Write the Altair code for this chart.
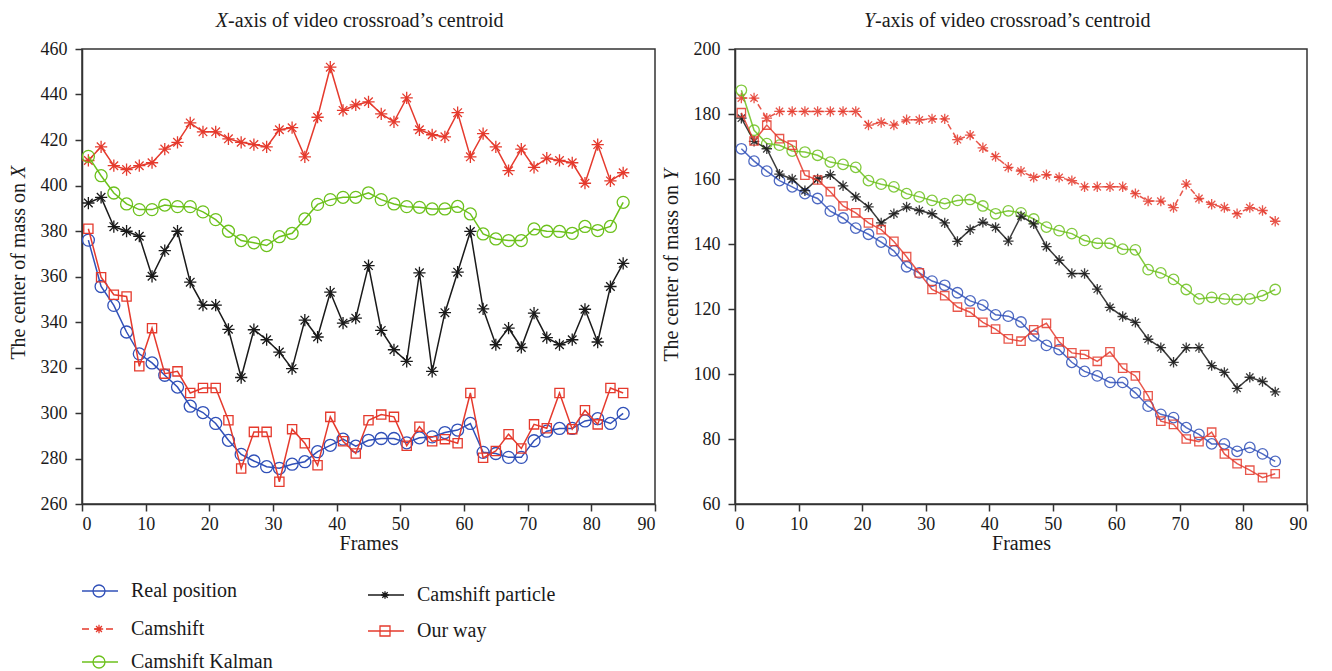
import altair as alt
import pandas as pd

# ---------------- data ----------------
frames = [1, 3, 5, 7, 9, 11, 13, 15, 17, 19, 21, 23, 25, 27, 29, 31, 33, 35, 37, 39, 41, 43,
          45, 47, 49, 51, 53, 55, 57, 59, 61, 63, 65, 67, 69, 71, 73, 75, 77, 79, 81, 83, 85]

series = ["Real position", "Camshift", "Camshift Kalman", "Camshift particle", "Our way"]

# X-axis panel
x_real = [376, 355.6, 347.3, 335.6, 326, 322, 316.6, 311.4, 303, 300.2, 295.4, 288, 281.8, 278.9,
          276.4, 275.7, 277.5, 278.6, 283, 285.8, 288.5, 285.4, 288, 288.8, 288.8, 286.9, 289.1,
          289.5, 291.4, 292.5, 295.4, 282.7, 282.2, 280.5, 280.5, 287.8, 292, 293.2, 293.2, 296.5,
          297.5, 295.4, 299.8]
x_camshift = [411, 417, 408.7, 407, 408.7, 410, 416, 419, 427.5, 423.6, 423.6, 420.5, 419, 418, 417,
              424.5, 425.4, 412.6, 430, 452, 433, 435.4, 436.8, 431.5, 428, 438.5, 424.5, 422.3,
              421.4, 432, 412.6, 422.8, 417, 406.5, 416, 408, 412, 411, 410, 401, 418, 402, 405.6]
x_kalman = [412.8, 404.3, 396.7, 391.9, 389.4, 389.4, 391.4, 390.7, 390.7, 388.4, 385, 379.9, 375.8,
            374.8, 373.6, 377.5, 379, 385.3, 391.7, 393.8, 394.8, 394.8, 396.8, 393.8, 391.9, 390.7,
            390.4, 389.7, 389.7, 390.8, 387.5, 378.7, 376.5, 375.8, 375.8, 380.9, 379.9, 379.8, 379,
            382, 380.2, 382, 392.6]
x_particle = [392.3, 394.8, 381.9, 379.9, 377.7, 360.1, 371.4, 379.9, 357.5, 347.4, 347.4, 336.8,
              315.6, 336.6, 332.2, 326.8, 319.5, 340.8, 333.4, 353.1, 339.5, 341.7, 364.8, 336.3,
              327.8, 322.7, 361.6, 318.3, 344.1, 361.9, 379.8, 345.8, 330, 337.3, 328.8, 343.9,
              333.1, 330, 332.2, 345.6, 331.2, 355.6, 365.8]
x_ourway = [381, 359.7, 352, 351.2, 320.5, 337.3, 317.3, 318.3, 308.8, 311, 311, 296.8, 275.6, 291.7,
            291.7, 269.8, 292.9, 286.7, 277, 298.3, 287.6, 282.2, 296.8, 299.3, 298.3, 285.6, 294,
            287.6, 288.5, 286.7, 308.8, 280.3, 283.3, 290.7, 284.4, 295, 293.3, 308.8, 292.9, 301.2,
            295, 311, 308.8]

# Y-axis panel
y_real = [169.3, 165.5, 162.4, 159.5, 157.6, 155.5, 154, 150.1, 148, 144.9, 143, 140.6, 137.9, 133,
          131.1, 128.6, 127.3, 125, 122.5, 121.2, 118.2, 117.8, 116, 111.7, 108.8, 107.5, 103.6,
          100.8, 99.4, 97.4, 97.4, 94.2, 90.1, 87.6, 86.6, 83.5, 81.4, 78.5, 78.5, 76.2, 77.4, 75.4,
          73.1]
y_camshift = [184.9, 184.9, 178.7, 180.8, 180.8, 180.8, 180.8, 180.8, 180.8, 180.8, 176.6, 177.4,
              176.6, 178.2, 178.2, 178.5, 178.5, 172.1, 173.5, 169.6, 166.9, 163.6, 162.4, 160.5,
              161.3, 160.5, 159.5, 157.6, 157.6, 157.6, 157.6, 155.5, 153.2, 153.2, 151.2, 158.4,
              154, 152.2, 151.2, 149.3, 151.2, 150.3, 147]
y_kalman = [187.3, 175, 170.9, 170.4, 168.6, 168.3, 167.3, 165.2, 164.5, 163.6, 159.5, 158.4, 157.6,
            155.5, 154.5, 153.4, 152.4, 153.4, 153.7, 151.7, 149.3, 150.2, 149.6, 147.7, 145.2,
            144.1, 143.2, 141.1, 140.2, 140.2, 138.4, 138.2, 132.1, 131.1, 129.1, 126, 123.1, 123.6,
            123.1, 122.9, 123.1, 124.1, 126]
y_particle = [178.7, 171.6, 169.3, 161.5, 160, 156.4, 160, 161.3, 157.9, 154.5, 151.4, 146.5, 149.3,
              151.4, 150.3, 149.3, 146.5, 140.8, 144.4, 146.7, 145.1, 140.9, 148.6, 146.2, 139.2,
              135, 130.9, 130.9, 126.1, 120.5, 117.7, 115.9, 110.7, 108.1, 103.6, 108.1, 108.1,
              102.6, 100.5, 95.6, 99, 97.7, 94.5]
y_ourway = [180.4, 171.7, 176.6, 172.4, 170.4, 161.2, 159.7, 156.1, 151.7, 149.6, 146.5, 144.4,
            140.8, 136.1, 131.1, 126, 124.1, 120.6, 119, 115.9, 113.8, 110.8, 110.1, 113.6, 115.6,
            109.9, 106.5, 106, 103.9, 106.8, 101.8, 99.4, 93.3, 85.5, 84.5, 80, 79.2, 82.1, 75.4,
            72.4, 70.4, 68.1, 69.3]

x_ticks = [0, 10, 20, 30, 40, 50, 60, 70, 80, 90]
left_ticks = [260, 280, 300, 320, 340, 360, 380, 400, 420, 440, 460]
right_ticks = [60, 80, 100, 120, 140, 160, 180, 200]

# ---------------- styles ----------------
FONT = "Liberation Serif"
ASTER = "M0,-1L0,1M-1,0L1,0M-0.7,-0.7L0.7,0.7M-0.7,0.7L0.7,-0.7"
colors = {
    "Real position": "#3050b8",
    "Camshift": "#e53a2d",
    "Camshift Kalman": "#6cc11c",
    "Camshift particle": "#1a1a1a",
    "Our way": "#e53a2d",
}
shapes = {
    "Real position": "circle",
    "Camshift": ASTER,
    "Camshift Kalman": "circle",
    "Camshift particle": ASTER,
    "Our way": "square",
}

W_L, W_R, H = 573, 572, 455


def text_layer(txt, x, y, size=20, italic=False, align="left", angle=None):
    kw = dict(font=FONT, fontSize=size, align=align, baseline="middle", color="#1a1a1a")
    if italic:
        kw["fontStyle"] = "italic"
    if angle is not None:
        kw["angle"] = angle
    return alt.Chart(pd.DataFrame({"t": [txt]})).mark_text(**kw).encode(
        x=alt.value(x), y=alt.value(y), text="t:N")


AX = dict(labelFont=FONT, labelFontSize=18, labelColor="#1a1a1a",
          titleFont=FONT, titleFontSize=20, titleFontWeight="normal", titleColor="#1a1a1a",
          domainColor="#333333", domainWidth=1.5, tickColor="#333333", tickWidth=1.5,
          grid=False, tickSize=7, format="d")


def panel(values, ydomain, yticks, letter, sizes, dashed, opacity, title_x, ytitle_y):
    xenc = alt.X("frame:Q", scale=alt.Scale(domain=[0, 90], nice=False),
                 axis=alt.Axis(values=x_ticks, title="Frames", labelPadding=4, titlePadding=0, **AX))
    yenc = alt.Y("value:Q", scale=alt.Scale(domain=ydomain, nice=False, zero=False),
                 axis=alt.Axis(values=yticks, title=None, labelPadding=8, **AX))
    layers = []
    for s in series:
        d = pd.DataFrame({"frame": frames, "value": values[s]})
        lkw = dict(color=colors[s], strokeWidth=1.5, opacity=opacity)
        if s == "Camshift" and dashed:
            lkw["strokeDash"] = [6, 4]
        layers.append(alt.Chart(d).mark_line(**lkw).encode(x=xenc, y=yenc))
        layers.append(alt.Chart(d).mark_point(shape=shapes[s], size=sizes[s], color=colors[s],
                                              filled=False, strokeWidth=1.3, opacity=opacity)
                      .encode(x=xenc, y=yenc))
    # panel title with italic letter
    layers.append(text_layer(letter, title_x, -28, italic=True, align="right"))
    layers.append(text_layer("-axis of video crossroad\u2019s centroid", title_x, -28))
    # y-axis title with italic letter
    layers.append(text_layer("The center of mass on", -63, ytitle_y, align="right", angle=270))
    layers.append(text_layer(letter, -63, ytitle_y - 5, italic=True, align="left", angle=270))
    return layers


left_vals = dict(zip(series, [x_real, x_camshift, x_kalman, x_particle, x_ourway]))
right_vals = dict(zip(series, [y_real, y_camshift, y_kalman, y_particle, y_ourway]))

left_sizes = {"Real position": 144, "Camshift": 150, "Camshift Kalman": 144,
              "Camshift particle": 150, "Our way": 85}
right_sizes = {"Real position": 110, "Camshift": 110, "Camshift Kalman": 110,
               "Camshift particle": 110, "Our way": 70}

left_layers = panel(left_vals, [260, 460], left_ticks, "X", left_sizes, False, 1.0, 146, 134)
right_layers = panel(right_vals, [60, 200], right_ticks, "Y", right_sizes, True, 0.85, 140, 136)

# ---------------- manual legend (drawn below left panel) ----------------
legend_pos = {
    "Real position": (0, 542),
    "Camshift": (0, 580),
    "Camshift Kalman": (0, 613),
    "Camshift particle": (286, 546),
    "Our way": (286, 582),
}
one = pd.DataFrame({"k": [0]})
for s in series:
    lx, ly = legend_pos[s]
    rkw = dict(color=colors[s], strokeWidth=1.5)
    if s == "Camshift":
        rkw["strokeDash"] = [7, 5]
    left_layers.append(alt.Chart(one).mark_rule(**rkw).encode(
        x=alt.value(lx), x2=alt.value(lx + 36), y=alt.value(ly)))
    psize = {"Real position": 144, "Camshift": 70, "Camshift Kalman": 144,
             "Camshift particle": 60, "Our way": 100}[s]
    left_layers.append(alt.Chart(one).mark_point(shape=shapes[s], size=psize, color=colors[s],
                                                 filled=False, strokeWidth=1.3, opacity=1).encode(
        x=alt.value(lx + 17), y=alt.value(ly)))
    left_layers.append(text_layer(s, lx + 49, ly, size=20))

left = alt.layer(*left_layers).properties(width=W_L, height=H)
right = alt.layer(*right_layers).properties(width=W_R, height=H)

chart = alt.hconcat(left, right, spacing=80, bounds="flush").properties(
    padding={"left": 8, "top": 10, "right": 0, "bottom": 0}, background="white"
).configure(font=FONT).configure_view(stroke="#333333", strokeWidth=1.5).configure_axis(
    labelFont=FONT, titleFont=FONT)

chart.save("out.html", embed_options={"renderer": "svg", "actions": False})
